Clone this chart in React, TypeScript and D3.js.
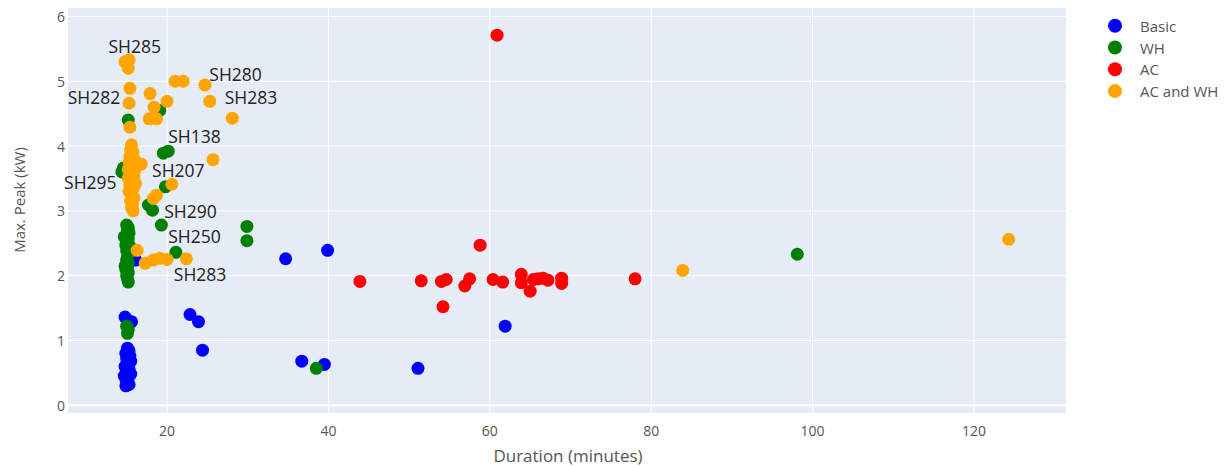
import React from 'react';
import * as d3 from 'd3';

const SERIES = ['Basic', 'WH', 'AC', 'AC and WH'];
const COLORS = ['#0000ff', '#008000', '#ff0000', '#ffa500'];

// Basic
const basicDuration = [14.8, 15.6, 15.1, 15.3, 14.9, 15.4, 15.0, 15.5, 15.1, 14.8, 15.3, 15.0, 15.5, 14.7, 15.2, 15.0, 15.3, 14.9,
  16.1, 22.85, 23.9, 24.4, 34.7, 39.9, 36.7, 39.5, 51.1, 61.9];
const basicPeak = [1.36, 1.29, 0.88, 0.84, 0.80, 0.76, 0.72, 0.68, 0.64, 0.60, 0.56, 0.52, 0.48, 0.45, 0.42, 0.36, 0.32, 0.30,
  2.24, 1.40, 1.29, 0.85, 2.26, 2.39, 0.68, 0.63, 0.57, 1.22];

// WH
const whDuration = [15.0, 15.2, 15.1, 15.3, 15.0, 15.2, 15.1, 14.9, 15.2, 15.0, 15.3, 15.1, 15.0, 15.2, 15.1, 14.9, 15.2, 15.0, 15.1, 15.2,
  14.7, 15.4, 14.8, 15.0, 15.2, 15.1, 14.4, 14.6, 15.2, 19.1, 19.55, 20.15, 19.8, 17.7, 18.2, 19.3, 29.9, 29.9, 21.1, 38.5, 98.1];
const whPeak = [2.78, 2.74, 2.70, 2.66, 2.62, 2.57, 2.52, 2.47, 2.43, 2.38, 2.34, 2.29, 2.24, 2.19, 2.14, 2.10, 2.05, 2.00, 1.95, 1.90,
  2.60, 2.45, 2.15, 1.22, 1.17, 1.11, 3.60, 3.66, 4.40, 4.55, 3.89, 3.92, 3.37, 3.09, 3.01, 2.78, 2.76, 2.54, 2.36, 0.57, 2.33];

// AC
const acDuration = [43.9, 51.5, 54.0, 54.6, 54.2, 56.9, 57.5, 58.8, 60.4, 61.6, 60.9, 63.9, 63.9, 65.0, 65.4, 66.0, 66.6, 67.2, 68.9, 68.9, 78.0];
const acPeak = [1.91, 1.92, 1.91, 1.94, 1.52, 1.84, 1.95, 2.47, 1.94, 1.90, 5.71, 2.02, 1.89, 1.76, 1.94, 1.95, 1.96, 1.93, 1.96, 1.88, 1.95];

// AC and WH
const acwhDuration = [15.6, 15.5, 15.8, 15.4, 15.9, 15.3, 16.2, 16.8, 15.6, 15.2, 16.0, 15.5, 15.9, 15.2, 15.7, 16.1, 15.4, 15.8, 15.3, 15.6, 15.9, 15.5, 15.7, 15.6, 15.8,
  14.8, 15.3, 15.2, 15.4, 15.3, 17.9, 18.4, 20.0, 17.8, 18.7, 21.0, 22.0, 24.7, 25.3, 28.1, 15.4, 25.7, 20.6, 18.7, 18.3,
  16.3, 17.3, 18.3, 19.1, 20.0, 22.4, 83.9, 124.3];
const acwhPeak = [4.02, 3.95, 3.90, 3.85, 3.80, 3.76, 3.73, 3.72, 3.68, 3.64, 3.62, 3.58, 3.54, 3.50, 3.46, 3.42, 3.38, 3.34, 3.30, 3.25, 3.20, 3.15, 3.10, 3.05, 3.00,
  5.30, 5.33, 5.20, 4.89, 4.66, 4.81, 4.60, 4.69, 4.42, 4.42, 5.00, 5.00, 4.94, 4.69, 4.43, 4.29, 3.79, 3.41, 3.24, 3.19,
  2.39, 2.19, 2.24, 2.27, 2.25, 2.26, 2.08, 2.56];

const durations = [basicDuration, whDuration, acDuration, acwhDuration];
const peaks = [basicPeak, whPeak, acPeak, acwhPeak];

// Annotations (centre of text, in data units)
const labelText = ['SH285', 'SH280', 'SH282', 'SH283', 'SH138', 'SH207', 'SH295', 'SH290', 'SH250', 'SH283'];
const labelX = [16.0, 28.5, 10.95, 30.4, 23.4, 21.4, 10.5, 22.9, 23.4, 24.1];
const labelY = [5.55, 5.11, 4.75, 4.75, 4.15, 3.63, 3.45, 3.00, 2.61, 2.03];

const xTicks = [20, 40, 60, 80, 100, 120];
const yTicks = [0, 1, 2, 3, 4, 5, 6];

const W = 1229;
const H = 466;

export default function App() {
  const x = d3.scaleLinear().domain([7.73, 131.4]).range([68, 1066]);
  const y = d3.scaleLinear().domain([-0.12, 6.13]).range([413, 8]);
  const [x0, x1] = x.range();
  const [y0, y1] = y.range();
  const font = '"Open Sans", "Noto Sans", sans-serif';

  return (
    <svg width={W} height={H} style={{ position: 'absolute', left: 0, top: 0, background: '#fff' }} fontFamily={font}>
      <rect x={x0} y={y1} width={x1 - x0} height={y0 - y1} fill="#e5ecf6" />
      {xTicks.map((t) => (
        <line key={'gx' + t} x1={x(t)} x2={x(t)} y1={y1} y2={y0} stroke="#fff" strokeWidth={1} />
      ))}
      {yTicks.map((t) => (
        <line key={'gy' + t} x1={x0} x2={x1} y1={y(t)} y2={y(t)} stroke="#fff" strokeWidth={t === 0 ? 2 : 1} />
      ))}

      {SERIES.map((s, si) => (
        <g key={s} fill={COLORS[si]}>
          {durations[si].map((d, i) => (
            <circle key={i} cx={x(d)} cy={y(peaks[si][i])} r={6.5} />
          ))}
        </g>
      ))}

      {labelText.map((t, i) => (
        <text key={i} x={x(labelX[i])} y={y(labelY[i])} textAnchor="middle" dominantBaseline="central"
          fontSize={17.5} fill="#222">{t}</text>
      ))}

      {xTicks.map((t) => (
        <text key={'tx' + t} x={x(t)} y={430} textAnchor="middle" dominantBaseline="central" fontSize={14} fill="#555">{t}</text>
      ))}
      {yTicks.map((t) => (
        <text key={'ty' + t} x={65} y={y(t)} textAnchor="end" dominantBaseline="central" fontSize={14} fill="#555">{t}</text>
      ))}

      <text x={568} y={455} textAnchor="middle" dominantBaseline="central" fontSize={17} fill="#555">Duration (minutes)</text>
      <text transform="translate(19,200) rotate(-90)" textAnchor="middle" dominantBaseline="central" fontSize={15} fill="#555">Max. Peak (kW)</text>

      {SERIES.map((s, si) => (
        <g key={'lg' + s} transform={`translate(1115,${25.7 + si * 21.8})`}>
          <circle r={7} fill={COLORS[si]} />
          <text x={25} dominantBaseline="central" fontSize={15} fill="#555">{s}</text>
        </g>
      ))}
    </svg>
  );
}
